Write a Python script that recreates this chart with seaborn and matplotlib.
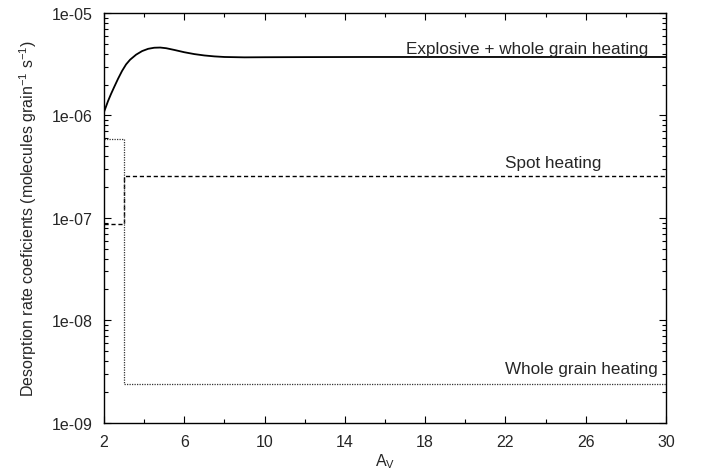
import matplotlib
matplotlib.use("Agg")
import matplotlib.pyplot as plt
import seaborn as sns
import pandas as pd
from matplotlib.ticker import FixedLocator, LogLocator, FuncFormatter, MultipleLocator

# Data
explosive_x = [2.0, 2.1, 2.2, 2.35, 2.5, 2.7, 2.9, 3.1, 3.3, 3.6, 3.9, 4.2, 4.5, 4.8,
               5.1, 5.5, 6.0, 6.5, 7.0, 7.5, 8.0, 9.0, 10, 12, 15, 20, 25, 30]
explosive_y = [1.08e-6, 1.22e-6, 1.38e-6, 1.62e-6, 1.88e-6, 2.28e-6, 2.72e-6, 3.15e-6,
               3.50e-6, 3.92e-6, 4.25e-6, 4.47e-6, 4.58e-6, 4.60e-6, 4.53e-6, 4.36e-6,
               4.14e-6, 3.97e-6, 3.85e-6, 3.77e-6, 3.72e-6, 3.69e-6, 3.70e-6, 3.71e-6,
               3.72e-6, 3.72e-6, 3.72e-6, 3.72e-6]
spot_x = [2.0, 3.0, 30.0]
spot_y = [8.8e-8, 2.55e-7, 2.55e-7]
whole_x = [2.0, 3.0, 30.0]
whole_y = [5.9e-7, 2.37e-9, 2.37e-9]

x_ticks = [2, 6, 10, 14, 18, 22, 26, 30]
y_ticks = [1e-9, 1e-8, 1e-7, 1e-6, 1e-5]
labels = ["Explosive + whole grain heating", "Spot heating", "Whole grain heating"]

sns.set_style("ticks")
plt.rcParams['font.family'] = ['Liberation Sans', 'DejaVu Sans']
plt.rcParams['mathtext.fontset'] = 'custom'
plt.rcParams['mathtext.rm'] = 'Liberation Sans'
plt.rcParams['mathtext.it'] = 'Liberation Sans'

fig = plt.figure(figsize=(7.02, 4.77), dpi=100)
ax = fig.add_axes([104/702, 1-423.7/477, (666-104)/702, (423.7-14)/477])

df_e = pd.DataFrame({"x": explosive_x, "y": explosive_y})
df_s = pd.DataFrame({"x": spot_x, "y": spot_y})
df_w = pd.DataFrame({"x": whole_x, "y": whole_y})

sns.lineplot(data=df_e, x="x", y="y", ax=ax, color="black", lw=1.3, sort=False)
sns.lineplot(data=df_s, x="x", y="y", ax=ax, color="black", lw=1.0, sort=False,
             drawstyle="steps-post", linestyle=(0, (3, 2)))
sns.lineplot(data=df_w, x="x", y="y", ax=ax, color="#333333", lw=0.9, sort=False,
             drawstyle="steps-post", linestyle=(0, (1, 1)))

ax.set_yscale("log")
ax.set_xlim(2, 30)
ax.set_ylim(1e-9, 1e-5)
ax.xaxis.set_major_locator(FixedLocator(x_ticks))
ax.xaxis.set_minor_locator(MultipleLocator(2))
ax.yaxis.set_major_locator(FixedLocator(y_ticks))
ax.yaxis.set_minor_locator(LogLocator(base=10, subs=range(2, 10)))
ax.yaxis.set_major_formatter(FuncFormatter(lambda v, p: "%.0e" % v))
ax.xaxis.set_major_formatter(FuncFormatter(lambda v, p: "%d" % v))

ax.tick_params(which="both", direction="in", top=True, right=True, labelsize=11.5,
               color="black", width=0.8)
ax.tick_params(which="major", length=5, pad=8)
ax.tick_params(which="minor", length=3)
for s in ax.spines.values():
    s.set_color("black")
    s.set_linewidth(1.0)

ax.set_xlabel("A$_\\mathrm{V}$", fontsize=11.5, labelpad=2)
ax.set_ylabel("Desorption rate coeficients (molecules grain$^{-1}$ s$^{-1}$)", fontsize=11.5, labelpad=9)

ax.text(29.1, 4.07e-6, labels[0], ha="right", va="baseline", fontsize=12.3)
ax.text(26.8, 3.13e-7, labels[1], ha="right", va="baseline", fontsize=12.3)
ax.text(29.6, 3.03e-9, labels[2], ha="right", va="baseline", fontsize=12.3)

fig.savefig("out.png", dpi=100)
